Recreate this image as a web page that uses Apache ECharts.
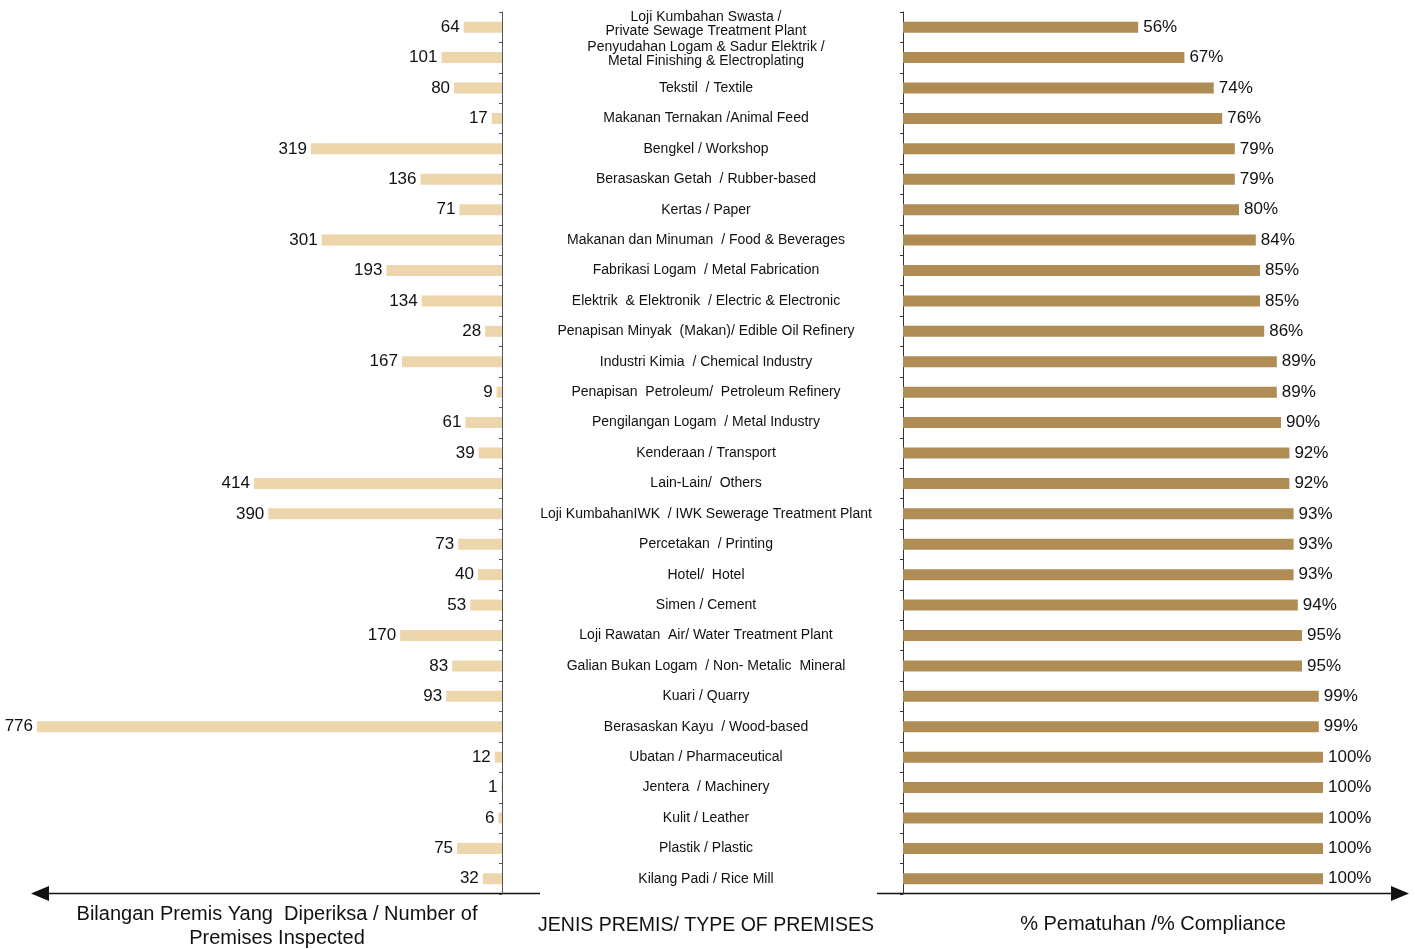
<!DOCTYPE html>
<html><head><meta charset="utf-8">
<script src="https://cdn.jsdelivr.net/npm/echarts@6/dist/echarts.min.js"></script>
<style>html,body{margin:0;padding:0;background:#fff}#c{width:1415px;height:949px}</style>
</head><body><div id="c"></div>
<script>
const categories = [
  "Loji Kumbahan Swasta /\nPrivate Sewage Treatment Plant",
  "Penyudahan Logam & Sadur Elektrik /\nMetal Finishing & Electroplating",
  "Tekstil  / Textile",
  "Makanan Ternakan /Animal Feed",
  "Bengkel / Workshop",
  "Berasaskan Getah  / Rubber-based",
  "Kertas / Paper",
  "Makanan dan Minuman  / Food & Beverages",
  "Fabrikasi Logam  / Metal Fabrication",
  "Elektrik  & Elektronik  / Electric & Electronic",
  "Penapisan Minyak  (Makan)/ Edible Oil Refinery",
  "Industri Kimia  / Chemical Industry",
  "Penapisan  Petroleum/  Petroleum Refinery",
  "Pengilangan Logam  / Metal Industry",
  "Kenderaan / Transport",
  "Lain-Lain/  Others",
  "Loji KumbahanIWK  / IWK Sewerage Treatment Plant",
  "Percetakan  / Printing",
  "Hotel/  Hotel",
  "Simen / Cement",
  "Loji Rawatan  Air/ Water Treatment Plant",
  "Galian Bukan Logam  / Non- Metalic  Mineral",
  "Kuari / Quarry",
  "Berasaskan Kayu  / Wood-based",
  "Ubatan / Pharmaceutical",
  "Jentera  / Machinery",
  "Kulit / Leather",
  "Plastik / Plastic",
  "Kilang Padi / Rice Mill"
];
const premisesInspected = [64,101,80,17,319,136,71,301,193,134,28,167,9,61,39,414,390,73,40,53,170,83,93,776,12,1,6,75,32];
const compliancePct = [56,67,74,76,79,79,80,84,85,85,86,89,89,90,92,92,93,93,93,94,95,95,99,99,100,100,100,100,100];
const leftTitle = "Bilangan Premis Yang  Diperiksa / Number of\nPremises Inspected";
const centerTitle = "JENIS PREMIS/ TYPE OF PREMISES";
const rightTitle = "% Pematuhan /% Compliance";

const FONT = "Liberation Sans, Arial, Helvetica, sans-serif";
const chart = echarts.init(document.getElementById('c'));
const gTop = 12, gBottom = 949 - 894;
chart.setOption({
  animation: false,
  textStyle: {fontFamily: FONT},
  grid: [
    {left: 37, right: 1415 - 502, top: gTop, bottom: gBottom, containLabel: false},
    {left: 903, right: 1415 - 1323, top: gTop, bottom: gBottom, containLabel: false}
  ],
  xAxis: [
    {gridIndex: 0, type: 'value', min: 0, max: 776, inverse: true, show: false},
    {gridIndex: 1, type: 'value', min: 0, max: 100, show: false}
  ],
  yAxis: [
    {gridIndex: 0, type: 'category', data: categories, inverse: true, position: 'right',
     axisLine: {show: true, lineStyle: {color: '#555', width: 1}},
     axisTick: {show: true, inside: true, length: 3, lineStyle: {color: '#555'}},
     axisLabel: {show: false}, splitLine: {show: false}},
    {gridIndex: 1, type: 'category', data: categories, inverse: true, position: 'left',
     axisLine: {show: true, lineStyle: {color: '#333', width: 1}},
     axisTick: {show: true, length: 3, lineStyle: {color: '#333'}},
     axisLabel: {show: true, margin: 197, interval: 0, color: '#111', fontSize: 14, lineHeight: 14,
                 fontFamily: FONT, align: 'center',
                 formatter: v => v.indexOf('\n') >= 0 ? v + '\n{s| }' : v,
                 rich: {s: {fontSize: 4, lineHeight: 6}}},
     splitLine: {show: false}}
  ],
  series: [
    {type: 'bar', xAxisIndex: 0, yAxisIndex: 0, data: premisesInspected, barWidth: 11,
     itemStyle: {color: '#EDD5AC'},
     label: {show: true, position: 'left', distance: 4, color: '#111', fontSize: 17, fontFamily: FONT}},
    {type: 'bar', xAxisIndex: 1, yAxisIndex: 1, data: compliancePct, barWidth: 11,
     itemStyle: {color: '#AF8D55'},
     label: {show: true, position: 'right', distance: 5, color: '#111', fontSize: 17, fontFamily: FONT,
             formatter: p => p.value + '%'}}
  ],
  graphic: [
    {type: 'line', shape: {x1: 46, y1: 893.5, x2: 540, y2: 893.5}, style: {stroke: '#111', lineWidth: 1.5}},
    {type: 'polygon', shape: {points: [[31, 893.5], [49, 886], [49, 901]]}, style: {fill: '#111'}},
    {type: 'line', shape: {x1: 877, y1: 893.5, x2: 1394, y2: 893.5}, style: {stroke: '#111', lineWidth: 1.5}},
    {type: 'polygon', shape: {points: [[1409, 893.5], [1391, 886], [1391, 901]]}, style: {fill: '#111'}},
    {type: 'text', style: {text: leftTitle, x: 277, y: 902, align: 'center', verticalAlign: 'top', fontSize: 20, lineHeight: 24, fill: '#111', fontFamily: FONT}},
    {type: 'text', style: {text: centerTitle, x: 706, y: 926, align: 'center', verticalAlign: 'middle', fontSize: 19.5, fill: '#111', fontFamily: FONT}},
    {type: 'text', style: {text: rightTitle, x: 1153, y: 924, align: 'center', verticalAlign: 'middle', fontSize: 20, fill: '#111', fontFamily: FONT}}
  ]
});
</script></body></html>
